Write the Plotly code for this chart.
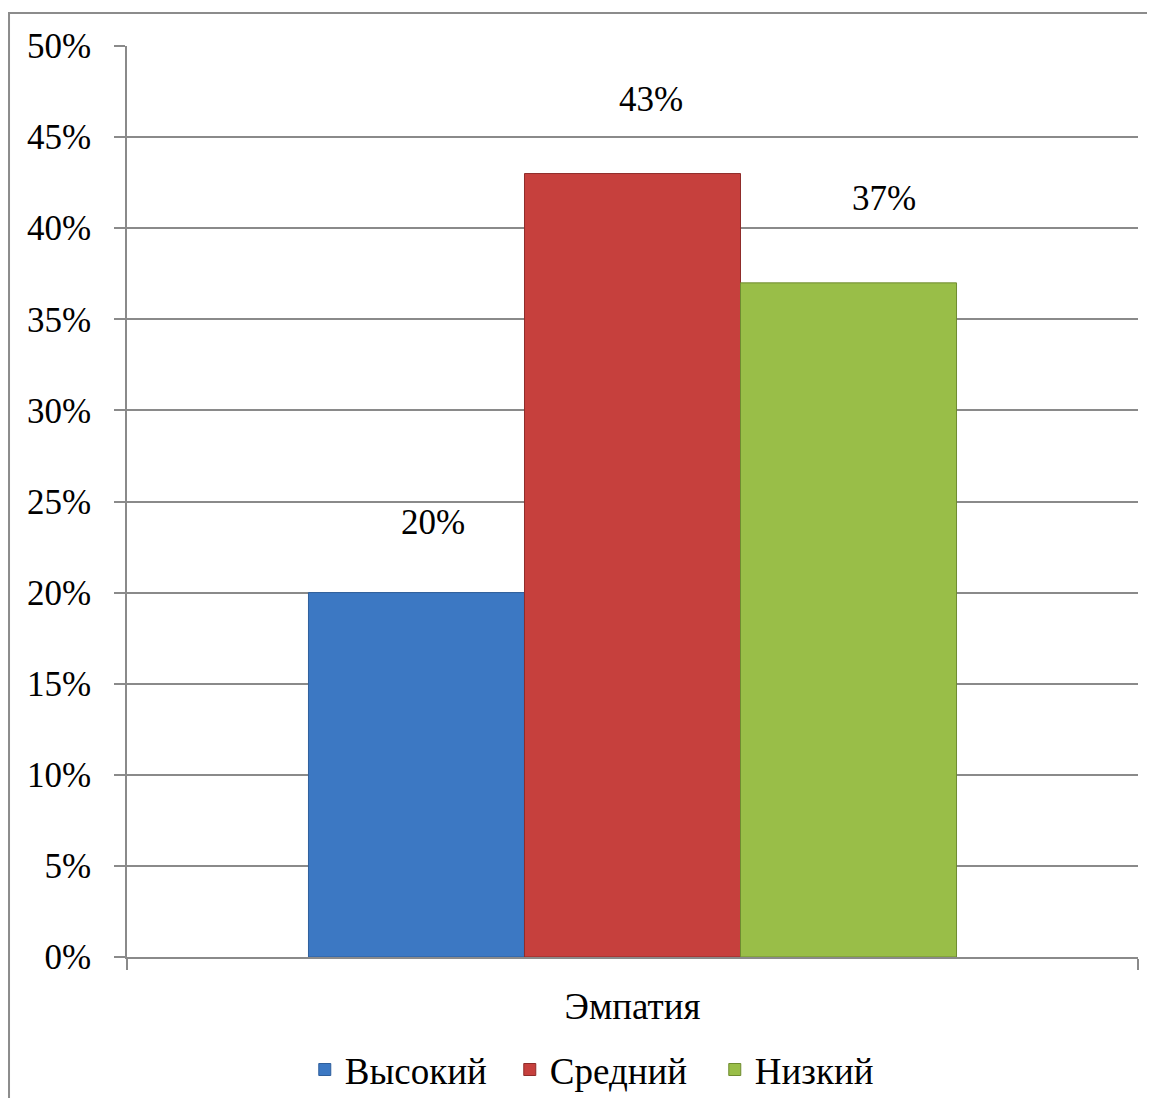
import plotly.graph_objects as go

categories = ["Эмпатия"]
series_names = ["Высокий", "Средний", "Низкий"]
series_values = [[20], [43], [37]]
series_colors = ["#3c78c3", "#c6403d", "#99be48"]
series_lines = ["#2f5f9c", "#8f2c2a", "#6f8c30"]
y_ticks = [0, 5, 10, 15, 20, 25, 30, 35, 40, 45, 50]
y_tick_labels = [f"{v}%" for v in y_ticks]

# label placement (style): offset in px from the top-centre of each bar
label_offsets = [(16, 70), (18, 74), (35, 84)]

FONT = "Liberation Serif"

fig = go.Figure()
for name, vals, col, lc in zip(series_names, series_values, series_colors, series_lines):
    fig.add_trace(go.Bar(
        name=name, x=categories, y=vals,
        marker=dict(color=col, line=dict(color=lc, width=1)),
        offsetgroup=name,
    ))

# data labels
n = len(series_names)
for i, (name, vals) in enumerate(zip(series_names, series_values)):
    dx, dy = label_offsets[i]
    for c, v in zip(categories, vals):
        fig.add_annotation(
            x=c, y=v, text=f"{v}%", showarrow=False,
            xref="x", yref="y", yanchor="middle",
            xshift=(i - (n - 1) / 2) * 216 + dx, yshift=dy,
            font=dict(family=FONT, size=35, color="#000000"),
        )

fig.update_layout(
    width=1139, height=1090,
    margin=dict(l=119, r=9, t=38, b=141, autoexpand=False),
    paper_bgcolor="white", plot_bgcolor="white",
    barmode="group", bargap=0.359, bargroupgap=0,
    showlegend=True,
    legend=dict(
        orientation="h", x=0.48, xanchor="center", y=-0.124, yanchor="middle",
        font=dict(family=FONT, size=37, color="#000000"),
        traceorder="normal", entrywidth=160,
    ),
    font=dict(family=FONT, color="#000000"),
    shapes=[dict(type="rect", xref="paper", yref="paper",
                 x0=-0.1167, x1=1.04, y0=-0.17, y1=1.0362,
                 line=dict(color="#8c8c8c", width=2), fillcolor="rgba(0,0,0,0)", layer="below")],
)
fig.update_yaxes(
    range=[0, 50], tickvals=y_ticks, ticktext=y_tick_labels,
    showgrid=True, gridcolor="#8a8a8a", gridwidth=1.5,
    showline=True, linecolor="#8a8a8a", linewidth=1.5,
    ticks="outside", ticklen=11, tickcolor="#8a8a8a", tickwidth=1.5,
    ticklabelstandoff=16,
    tickfont=dict(family=FONT, size=35, color="#000000"),
    zeroline=False,
)
fig.update_xaxes(
    showline=True, linecolor="#8a8a8a", linewidth=1.5,
    ticks="outside", ticklen=11, tickcolor="#8a8a8a", tickwidth=1.5,
    tickson="boundaries", ticklabelstandoff=16,
    tickfont=dict(family=FONT, size=37, color="#000000"),
    showgrid=False,
)

fig.write_html("out.html")
